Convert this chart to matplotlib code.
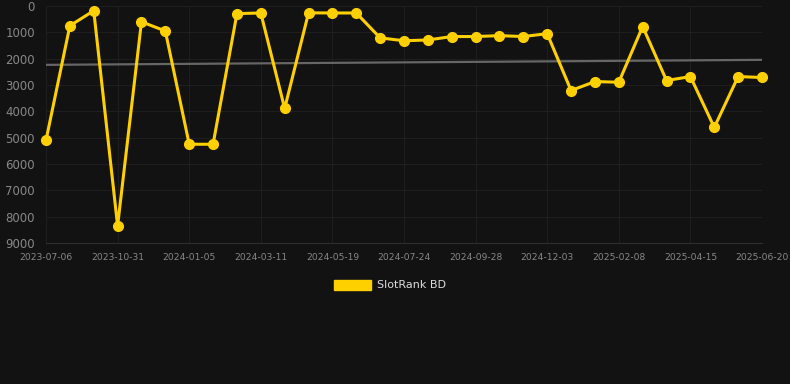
import matplotlib
matplotlib.use("Agg")
import matplotlib.pyplot as plt
import numpy as np
from matplotlib.patches import Patch

# --- data ---
tick_labels = ["2023-07-06", "2023-10-31", "2024-01-05", "2024-03-11", "2024-05-19",
               "2024-07-24", "2024-09-28", "2024-12-03", "2025-02-08", "2025-04-15",
               "2025-06-20"]
rank = [5100, 750, 180, 8350, 600, 950, 5250, 5250, 290, 265,
        3890, 260, 265, 265, 1210, 1320, 1290, 1160, 1160, 1125,
        1160, 1050, 3210, 2870, 2895, 780, 2830, 2680, 4610, 2680, 2715]
trend = [2235, 2045]
series_name = "SlotRank BD"

BG = "#121212"
YELLOW = "#FFD000"

fig = plt.figure(figsize=(7.9, 3.84), dpi=100, facecolor=BG)
ax = fig.add_axes([46/790, 1 - 243/384, (762 - 46)/790, (243 - 6)/384])
ax.set_facecolor(BG)

x = np.arange(len(rank))
ax.plot([x[0], x[-1]], trend, color="#666666", lw=1.6, zorder=2)
ax.plot(x, rank, color=YELLOW, lw=2.2, marker="o", ms=7,
        solid_joinstyle="miter", zorder=3, clip_on=False)

ax.set_xlim(x[0], x[-1])
ax.set_ylim(9000, 0)
ax.set_yticks(np.arange(0, 9001, 1000))
ax.set_yticklabels([str(v) for v in range(0, 9001, 1000)])
ax.set_xticks(x[::3])
ax.set_xticklabels(tick_labels)

ax.grid(True, color="#1f1f1f", lw=0.7)
for s in ["top", "right", "left"]:
    ax.spines[s].set_visible(False)
ax.spines["bottom"].set_color("#2e2e2e")
ax.tick_params(axis="y", colors="#888888", labelsize=8.5, length=0, pad=8)
ax.tick_params(axis="x", colors="#888888", labelsize=6.6, length=0, pad=7)

handle = Patch(facecolor=YELLOW, edgecolor=YELLOW)
fig.legend([handle], [series_name], loc="center", bbox_to_anchor=(390/790, 1 - 285/384),
           frameon=False, labelcolor="#dddddd", fontsize=8, handlelength=3.3,
           handleheight=1.0, handletextpad=0.6)

fig.savefig("out.png", dpi=100, facecolor=BG)
